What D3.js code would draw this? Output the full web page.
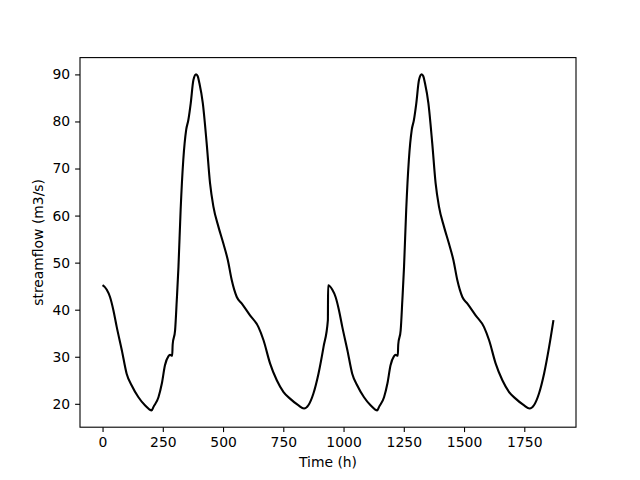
<!DOCTYPE html>
<html>
<head>
<meta charset="utf-8">
<script src="https://cdn.jsdelivr.net/npm/d3@7"></script>
<style>
    body { margin: 0; background: #fff; }
    #chart-area { width: 640px; height: 480px; }
    .axis text { font-family: "DejaVu Sans", sans-serif; font-size: 13.9px; fill: #000; }
    .axis path, .axis line { stroke: #000; stroke-width: 1.1px; }
    .axis-label { font-family: "DejaVu Sans", sans-serif; font-size: 13.9px; fill: #000; }
</style>
</head>
<body>
<div id="chart-area"></div>
<script>

// streamflow readings (hours, m3/s) - two 936 h cycles
var hours = [
    0, 17, 31, 45, 59, 80, 100, 121, 149, 176, 204, 211, 232, 246, 259, 273, 280, 289, 291,
    301, 308, 315, 324, 335, 347, 356, 366, 377, 388, 395, 402, 416, 432, 446, 460, 481,
    501, 520, 536, 557, 578, 612, 647, 668, 695, 723, 751, 778, 812, 836, 854, 875, 896,
    917, 935,
    936, 953, 967, 981, 995, 1016, 1036, 1057, 1085, 1112, 1140, 1147, 1168, 1182, 1195,
    1209, 1216, 1225, 1227, 1237, 1244, 1251, 1260, 1271, 1283, 1292, 1302, 1313, 1324,
    1331, 1338, 1352, 1368, 1382, 1396, 1417, 1437, 1456, 1472, 1493, 1514, 1548, 1583,
    1604, 1631, 1659, 1687, 1714, 1748, 1772, 1790, 1811, 1832, 1853, 1871
];
var flow = [
    45.2, 44.3, 42.7, 39.9, 36.3, 31.4, 26.4, 23.9, 21.4, 19.7, 18.6, 19.3, 21.4, 24.3, 28.2, 30.1, 30.4, 30.2, 32.6,
    35.6, 42.0, 49.1, 61.2, 71.8, 78.2, 80.3, 83.9, 88.8, 90.0, 89.6, 88.1, 83.9, 75.4, 66.9, 61.9, 57.6,
    54.1, 50.5, 46.3, 42.7, 41.3, 38.8, 36.3, 33.5, 28.6, 25.0, 22.5, 21.1, 19.7, 19.0, 19.7, 22.2, 26.4,
    32.1, 37.8,
    45.2, 44.3, 42.7, 39.9, 36.3, 31.4, 26.4, 23.9, 21.4, 19.7, 18.6, 19.3, 21.4, 24.3, 28.2,
    30.1, 30.4, 30.2, 32.6, 35.6, 42.0, 49.1, 61.2, 71.8, 78.2, 80.3, 83.9, 88.8, 90.0,
    89.6, 88.1, 83.9, 75.4, 66.9, 61.9, 57.6, 54.1, 50.5, 46.3, 42.7, 41.3, 38.8, 36.3,
    33.5, 28.6, 25.0, 22.5, 21.1, 19.7, 19.0, 19.7, 22.2, 26.4, 32.1, 37.8
];

var xTicks = [0, 250, 500, 750, 1000, 1250, 1500, 1750];
var yTicks = [20, 30, 40, 50, 60, 70, 80, 90];
var xLabel = "Time (h)";
var yLabel = "streamflow (m3/s)";


StreamflowChart = function(_parentElement, _hours, _flow){
    this.parentElement = _parentElement;
    this.hours = _hours;
    this.flow = _flow;
    this.initVis();
};

StreamflowChart.prototype.initVis = function(){
    var vis = this;

    // matplotlib default axes box for a 640x480 figure
    vis.margin = { top: 57.6, right: 64, bottom: 52.8, left: 80 };
    vis.width = 640 - vis.margin.left - vis.margin.right;
    vis.height = 480 - vis.margin.top - vis.margin.bottom;

    vis.svg = d3.select("#" + vis.parentElement).append("svg")
        .attr("width", 640)
        .attr("height", 480)
        .append("g")
        .attr("transform", "translate(" + vis.margin.left + "," + vis.margin.top + ")");

    vis.x = d3.scaleLinear().range([0, vis.width]);
    vis.y = d3.scaleLinear().range([vis.height, 0]);

    vis.xAxisGroup = vis.svg.append("g")
        .attr("class", "axis x-axis")
        .attr("transform", "translate(0," + vis.height + ")");
    vis.yAxisGroup = vis.svg.append("g")
        .attr("class", "axis y-axis");

    // frame (top and right spines)
    vis.svg.append("rect")
        .attr("width", vis.width)
        .attr("height", vis.height)
        .attr("fill", "none")
        .attr("stroke", "#000")
        .attr("stroke-width", 1.1);

    vis.svg.append("text")
        .attr("class", "axis-label")
        .attr("x", vis.width / 2)
        .attr("y", vis.height + 40)
        .attr("text-anchor", "middle")
        .text(xLabel);

    vis.svg.append("text")
        .attr("class", "axis-label")
        .attr("transform", "translate(-42," + (vis.height / 2) + ") rotate(-90)")
        .attr("text-anchor", "middle")
        .attr("dy", "0.35em")
        .text(yLabel);

    vis.wrangleData();
};

StreamflowChart.prototype.wrangleData = function(){
    var vis = this;

    vis.displayData = vis.hours.map(function(h, i){
        return { t: h, q: vis.flow[i] };
    });

    vis.updateVis();
};

StreamflowChart.prototype.updateVis = function(){
    var vis = this;

    // 5% padding like matplotlib autoscale
    var xExt = d3.extent(vis.displayData, function(d){ return d.t; });
    var yExt = d3.extent(vis.displayData, function(d){ return d.q; });
    var xPad = (xExt[1] - xExt[0]) * 0.05;
    var yPad = (yExt[1] - yExt[0]) * 0.05;
    vis.x.domain([xExt[0] - xPad, xExt[1] + xPad]);
    vis.y.domain([yExt[0] - yPad, yExt[1] + yPad]);

    vis.xAxisGroup.call(d3.axisBottom(vis.x)
        .tickValues(xTicks)
        .tickFormat(d3.format("d"))
        .tickSize(4.9)
        .tickPadding(4.9));
    vis.yAxisGroup.call(d3.axisLeft(vis.y)
        .tickValues(yTicks)
        .tickFormat(d3.format("d"))
        .tickSize(4.9)
        .tickPadding(4.9));
    vis.svg.selectAll(".axis .domain").remove();

    var line = d3.line()
        .x(function(d){ return vis.x(d.t); })
        .y(function(d){ return vis.y(d.q); })
        .curve(d3.curveMonotoneX);

    vis.path = vis.svg.selectAll(".flow-line")
        .data([vis.displayData]);

    vis.path.enter().append("path")
        .attr("class", "flow-line")
        .merge(vis.path)
        .attr("d", line)
        .attr("fill", "none")
        .attr("stroke", "#000")
        .attr("stroke-width", 2.1)
        .attr("stroke-linejoin", "round");

    vis.path.exit().remove();
};

var chart = new StreamflowChart("chart-area", hours, flow);

</script>
</body>
</html>
